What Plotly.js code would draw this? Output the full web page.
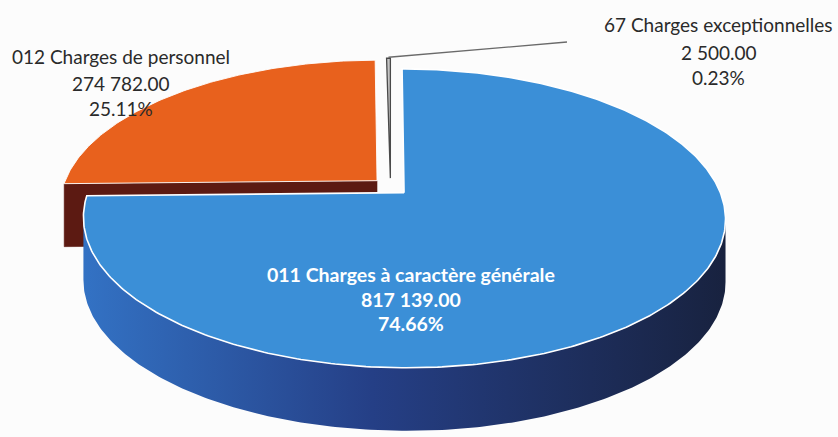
<!DOCTYPE html>
<html><head><meta charset="utf-8">
<script src="https://cdn.plot.ly/plotly-3.0.1.min.js"></script>
<style>html,body{margin:0;padding:0;background:#fcfcfc}</style>
</head><body><div id="chart" style="width:838px;height:437px"></div>
<script>
// ---- data ----
const categories = ["011 Charges à caractère générale", "012 Charges de personnel", "67 Charges exceptionnelles"];
const values = [817139.00, 274782.00, 2500.00];

// ---- styles ----
const topColors = ["#3b8fd7", "#e8611d", "#c4c4c4"];
const sideColors = ["#2a5aa6", "#5c1a12", "#8a8a8a"];
const sideGradient = [[0, "#3372c4"], [0.45, "#253f86"], [1, "#18223f"]];

// ---- 3D pie geometry (perspective projection) ----
const G = {cx: 390.5, cy: 186.6, A: 314, B: 143, k: 0.1706, D: 63, e: 0.06};
function P(u, v) { const w = 1 + G.k * v; return [G.cx + G.A * u / w, G.cy - G.B * v / w]; }

const total = values.reduce((a, b) => a + b, 0);
let cum = 0;
const slices = values.map((v, i) => {
  const s = cum / total; cum += v; const t = cum / total; const m = (s + t) / 2;
  const off = [G.e * Math.sin(2 * Math.PI * m), G.e * Math.cos(2 * Math.PI * m)];
  return {i, s, t, m, off};
});
function rimPts(sl, n) {
  const pts = [];
  for (let j = 0; j <= n; j++) {
    const th = 2 * Math.PI * (sl.s + (sl.t - sl.s) * j / n);
    pts.push(P(sl.off[0] + Math.sin(th), sl.off[1] + Math.cos(th)));
  }
  return pts;
}
function poly(pts, fill, line, lw, extra) {
  return Object.assign({
    type: "scatter", mode: "lines", x: pts.map(p => p[0]), y: pts.map(p => p[1]),
    fill: "toself", fillcolor: fill, line: {color: line, width: lw}, hoverinfo: "skip", showlegend: false
  }, extra || {});
}
const traces = [];
const down = p => [p[0], p[1] + G.D];

// orange slice (012)
{
  const sl = slices[1];
  const C = P(sl.off[0], sl.off[1]);
  const rim = rimPts(sl, 120);
  const R = rim[0];
  traces.push(poly([C, R, down(R), down(C), C], sideColors[1], sideColors[1], 0.5));
  traces.push(poly([C].concat(rim).concat([C]), topColors[1], "rgba(255,255,255,0.9)", 1));
}
// grey slice (67)
{
  const sl = slices[2];
  const C = P(sl.off[0], sl.off[1]);
  const rim = rimPts(sl, 10);
  traces.push(poly([C].concat(rim).concat([C]), topColors[2], "#4a4a4a", 1.3));
}
// blue slice (011)
{
  const sl = slices[0];
  const C = P(sl.off[0], sl.off[1]);
  const rim = rimPts(sl, 400);
  let iMax = 0, iMin = 0;
  rim.forEach((p, j) => { if (p[0] > rim[iMax][0]) iMax = j; });
  iMin = iMax;
  for (let j = iMax; j < rim.length; j++) { if (rim[j][0] < rim[iMin][0]) iMin = j; }
  const front = rim.slice(iMax, iMin + 1);
  const band = front.concat(front.slice().reverse().map(down));
  band.push(front[0]);
  const xs = band.map(p => p[0]);
  traces.push(poly(band, sideColors[0], "rgba(0,0,0,0)", 0, {
    fillgradient: {type: "horizontal", colorscale: sideGradient, start: Math.min(...xs), stop: Math.max(...xs)}
  }));
  traces.push(poly([C].concat(rim).concat([C]), topColors[0], "#ffffff", 1.6));
}
// leader line for the grey slice
{
  const sl = slices[2];
  const th = 2 * Math.PI * sl.m;
  const top = P(sl.off[0] + Math.sin(th), sl.off[1] + Math.cos(th));
  traces.push({type: "scatter", mode: "lines", x: [top[0], 567], y: [top[1] - 1, 42],
    line: {color: "#6a6a6a", width: 1.3}, hoverinfo: "skip", showlegend: false});
}

// ---- labels ----
function fmt(v) {
  const [ip, dp] = v.toFixed(2).split(".");
  return ip.replace(/\B(?=(\d{3})+(?!\d))/g, " ") + "." + dp;
}
const labelPos = [
  {x: 411, ys: [274, 299, 323], color: "#ffffff", bold: true, size: 19.5},
  {x: 121, ys: [56, 83, 108], color: "#2a2a2a", bold: false, size: 19},
  {x: 718, ys: [24, 52, 77], color: "#2a2a2a", bold: false, size: 19}
];
const annotations = [];
categories.forEach((name, i) => {
  const lines = [name, fmt(values[i]), (values[i] / total * 100).toFixed(2) + "%"];
  const lp = labelPos[i];
  lines.forEach((txt, j) => {
    annotations.push({x: lp.x, y: lp.ys[j], xref: "x", yref: "y", showarrow: false,
      text: lp.bold ? "<b>" + txt + "</b>" : txt, xanchor: "center", yanchor: "middle",
      font: {family: "Lato, 'Open Sans', sans-serif", size: lp.size, color: lp.color}});
  });
});

const layout = {
  width: 838, height: 437, margin: {l: 0, r: 0, t: 0, b: 0},
  paper_bgcolor: "#fcfcfc", plot_bgcolor: "#fcfcfc",
  xaxis: {range: [0, 838], visible: false, fixedrange: true},
  yaxis: {range: [437, 0], visible: false, fixedrange: true},
  showlegend: false, annotations
};
Plotly.newPlot("chart", traces, layout, {displayModeBar: false, staticPlot: true});
</script>
</body></html>
